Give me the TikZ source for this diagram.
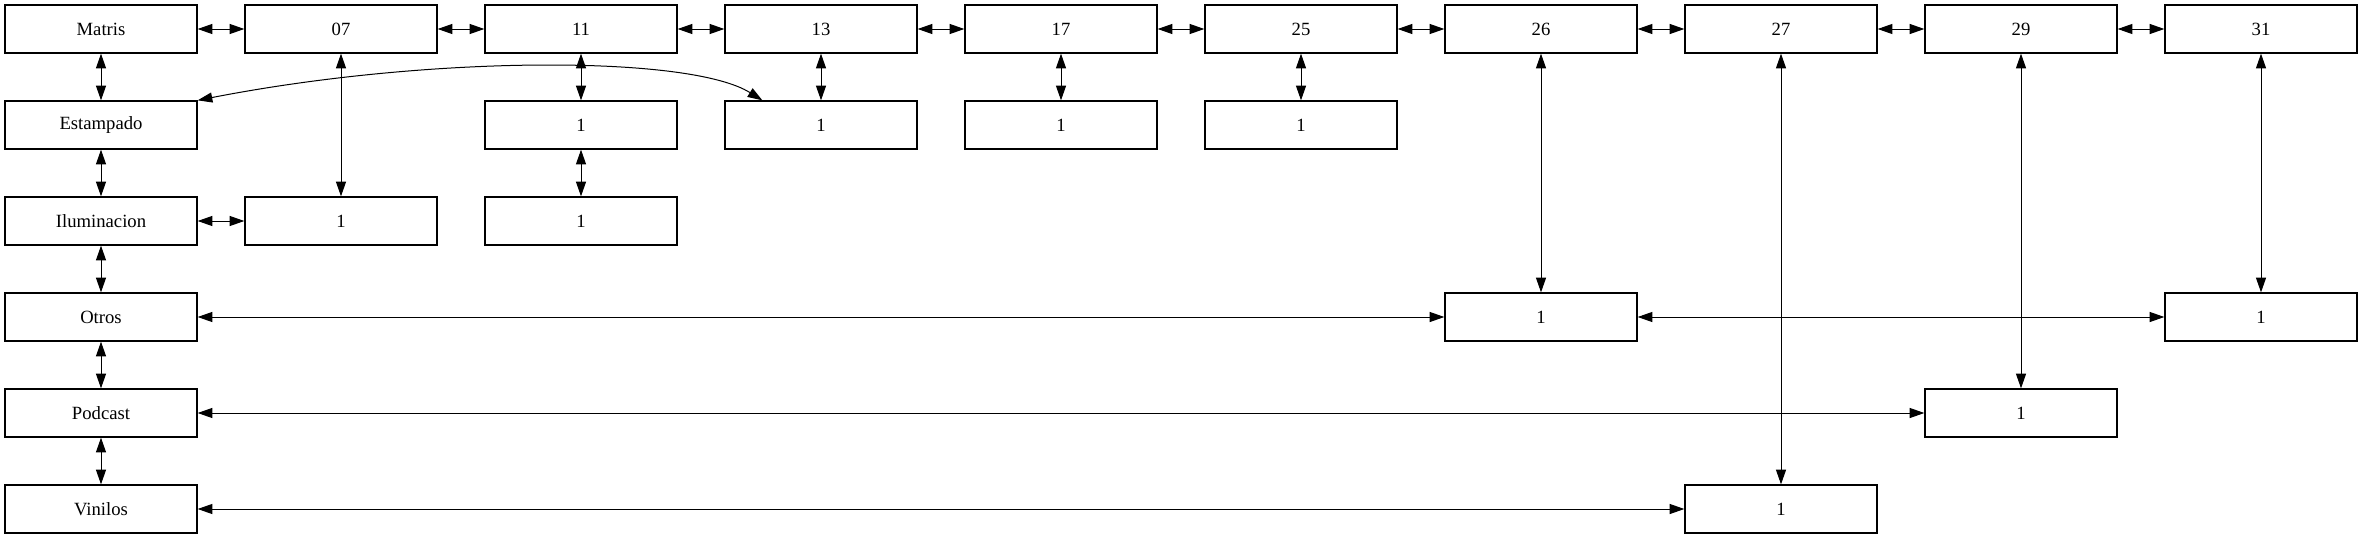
\documentclass[tikz,border=0pt]{standalone}
\usepackage{fontspec}
\setmainfont{Liberation Serif}
\usetikzlibrary{arrows.meta,calc}
\begin{document}
\begin{tikzpicture}[x=0.75pt,y=-0.75pt,
  box/.style={draw,line width=1pt,minimum width=144pt,minimum height=36pt,inner sep=0pt,font=\fontsize{14}{16}\selectfont},
  link/.style={line width=0.75pt,{Triangle[length=11pt,width=7.5pt]}-{Triangle[length=11pt,width=7.5pt]}}]
\useasboundingbox (0,0) rectangle (2363,539);
% row 1
\node[box] (matris) at (101,29) {Matris};
\node[box] (n07) at (341,29) {07};
\node[box] (n11) at (581,29) {11};
\node[box] (n13) at (821,29) {13};
\node[box] (n17) at (1061,29) {17};
\node[box] (n25) at (1301,29) {25};
\node[box] (n26) at (1541,29) {26};
\node[box] (n27) at (1781,29) {27};
\node[box] (n29) at (2021,29) {29};
\node[box] (n31) at (2261,29) {31};
% row 2
\node[box] (estampado) at (101,125) {Estampado};
\node[box] (a11) at (581,125) {1};
\node[box] (a13) at (821,125) {1};
\node[box] (a17) at (1061,125) {1};
\node[box] (a25) at (1301,125) {1};
% row 3
\node[box] (ilum) at (101,221) {Iluminacion};
\node[box] (b07) at (341,221) {1};
\node[box] (b11) at (581,221) {1};
% row 4
\node[box] (otros) at (101,317) {Otros};
\node[box] (d26) at (1541,317) {1};
\node[box] (d31) at (2261,317) {1};
% row 5
\node[box] (podcast) at (101,413) {Podcast};
\node[box] (e29) at (2021,413) {1};
% row 6
\node[box] (vinilos) at (101,509) {Vinilos};
\node[box] (f27) at (1781,509) {1};
% top row links
\draw[link] (matris) -- (n07);
\draw[link] (n07) -- (n11);
\draw[link] (n11) -- (n13);
\draw[link] (n13) -- (n17);
\draw[link] (n17) -- (n25);
\draw[link] (n25) -- (n26);
\draw[link] (n26) -- (n27);
\draw[link] (n27) -- (n29);
\draw[link] (n29) -- (n31);
% left column
\draw[link] (matris) -- (estampado);
\draw[link] (estampado) -- (ilum);
\draw[link] (ilum) -- (otros);
\draw[link] (otros) -- (podcast);
\draw[link] (podcast) -- (vinilos);
% verticals
\draw[link] (n07) -- (b07);
\draw[link] (n11) -- (a11);
\draw[link] (a11) -- (b11);
\draw[link] (n13) -- (a13);
\draw[link] (n17) -- (a17);
\draw[link] (n25) -- (a25);
\draw[link] (n26) -- (d26);
\draw[link] (n27) -- (f27);
\draw[link] (n29) -- (e29);
\draw[link] (n31) -- (d31);
% horizontals
\draw[link] (ilum) -- (b07);
\draw[link] (otros) -- (d26);
\draw[link] (d26) -- (d31);
\draw[link] (podcast) -- (e29);
\draw[link] (vinilos) -- (f27);
% curve
\draw[link] (estampado.north east) .. controls (430,55) and (690,55) .. ([xshift=28.5pt]a13.north west);
\end{tikzpicture}
\end{document}
